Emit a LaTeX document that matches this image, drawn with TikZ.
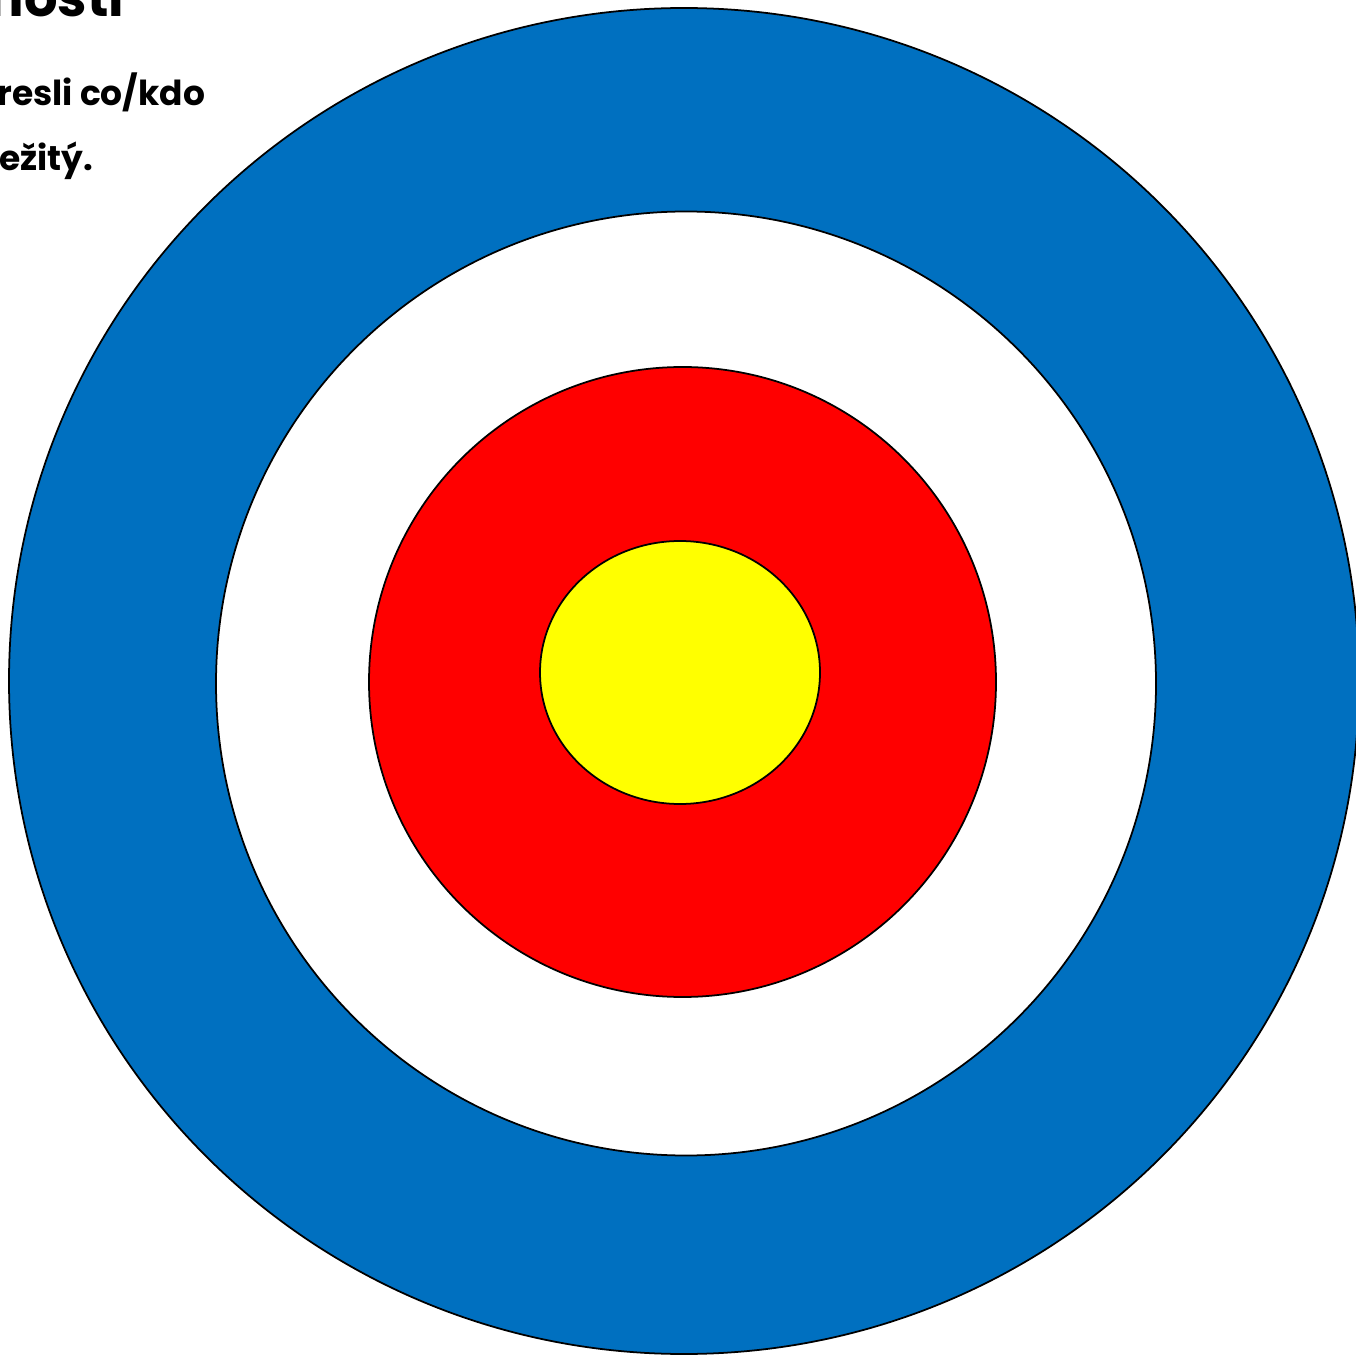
\documentclass[tikz,border=0pt]{standalone}
\usepackage{fontspec}
\setmainfont{Poppins}
\definecolor{ringblue}{HTML}{0070C0}
\definecolor{ringred}{HTML}{FF0000}
\definecolor{ringyellow}{HTML}{FFFF00}

\begin{document}
\begin{tikzpicture}[x=0.1mm,y=0.1mm,line width=0.5pt,
  ring/.style={draw=black},
  hint/.style={font=\bfseries\fontsize{9.8}{12}\selectfont,inner sep=0pt,anchor=base east}]
  \useasboundingbox (0,0) rectangle (1356,1355);
  \clip (0,0) rectangle (1356,1355);
  % rings, outside in
  \filldraw[ring,fill=ringblue]   (684,674) ellipse [x radius=67.5mm,y radius=67.3mm];
  \filldraw[ring,fill=white]      (686,671.5) ellipse [x radius=47mm,y radius=47.2mm];
  \filldraw[ring,fill=ringred]    (682.5,673) ellipse [x radius=31.35mm,y radius=31.5mm];
  \filldraw[ring,fill=ringyellow] (680,682.5) ellipse [x radius=14mm,y radius=13.15mm];
  % clipped text
  \node[hint,font=\bfseries\fontsize{15}{18}\selectfont] (title) at (125,1338) {nosti};
  \node[hint] (line1) at (206,1249) {resli co/kdo};
  \node[hint] (line2) at (94,1184) {ežitý.};
\end{tikzpicture}
\end{document}
